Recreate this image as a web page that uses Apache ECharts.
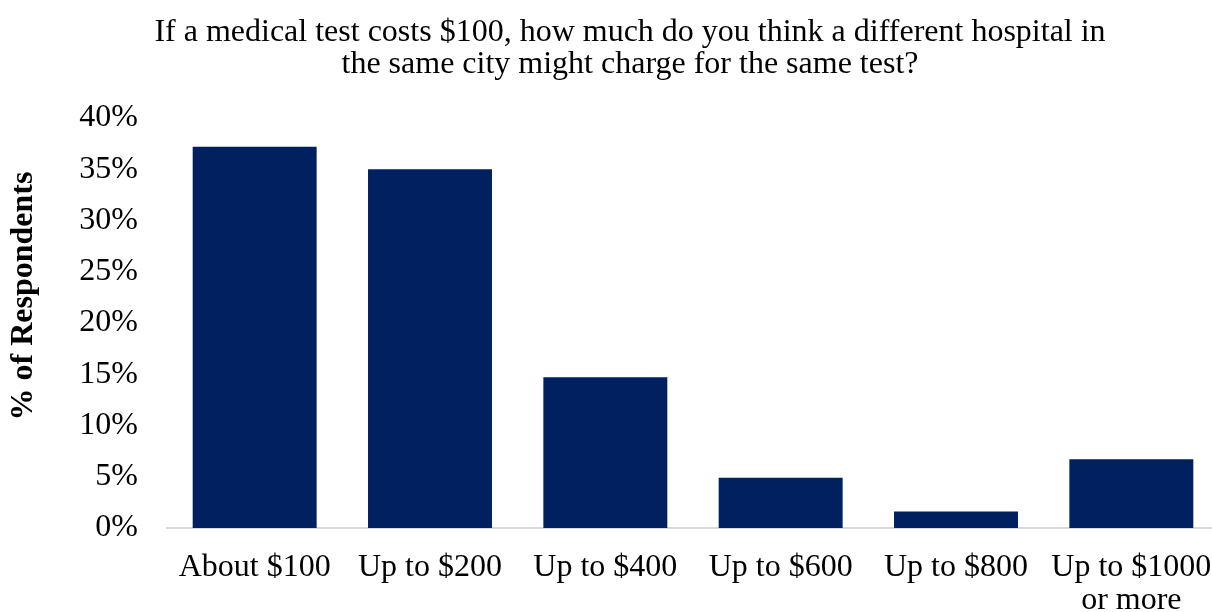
<!DOCTYPE html>
<html>
<head>
<meta charset="utf-8">
<script src="https://cdn.jsdelivr.net/npm/echarts@6/dist/echarts.min.js"></script>
<style>
  html, body { margin: 0; padding: 0; background: #fff; }
  #main { width: 1212px; height: 612px; }
</style>
</head>
<body>
<div id="main"></div>
<script>
// values (% of respondents)
const categories = ['About $100', 'Up to $200', 'Up to $400', 'Up to $600', 'Up to $800', 'Up to $1000\nor more'];
const shares = [37.2, 35.0, 14.7, 4.9, 1.6, 6.7];
const yTicks = [0, 5, 10, 15, 20, 25, 30, 35, 40];

const serif = '"Liberation Serif", "Times New Roman", serif';

let chart = echarts.init(document.getElementById('main'));
let option = {
  animation: false,
  textStyle: { fontFamily: serif },
  title: {
    text: 'If a medical test costs $100, how much do you think a different hospital in\nthe same city might charge for the same test?',
    left: 625,
    top: 12,
    textAlign: 'center',
    textStyle: {
      fontFamily: serif,
      fontSize: 32,
      fontWeight: 'normal',
      color: '#000',
      lineHeight: 32
    }
  },
  grid: {
    left: 167,
    right: -7,
    top: 118,
    bottom: 84,
    outerBoundsMode: 'none'
  },
  xAxis: {
    type: 'category',
    data: categories,
    axisLine: { lineStyle: { color: '#d9d9d9', width: 2 } },
    axisTick: { show: false },
    axisLabel: {
      color: '#000',
      fontFamily: serif,
      fontSize: 32,
      lineHeight: 33,
      margin: 23,
      interval: 0
    }
  },
  yAxis: {
    type: 'value',
    min: yTicks[0],
    max: yTicks[yTicks.length - 1],
    interval: 5,
    name: '% of Respondents',
    nameLocation: 'middle',
    nameGap: 127,
    nameTextStyle: {
      color: '#000',
      fontFamily: serif,
      fontSize: 32,
      fontWeight: 'bold',
      padding: [0, 0, 0, 54]
    },
    splitLine: { show: false },
    axisLine: { show: false },
    axisTick: { show: false },
    axisLabel: {
      color: '#000',
      fontFamily: serif,
      fontSize: 32,
      margin: 29,
      formatter: '{value}%'
    }
  },
  series: [{
    type: 'bar',
    data: shares,
    barWidth: '70.7%',
    itemStyle: { color: '#002060' }
  }]
};
chart.setOption(option);
</script>
</body>
</html>
